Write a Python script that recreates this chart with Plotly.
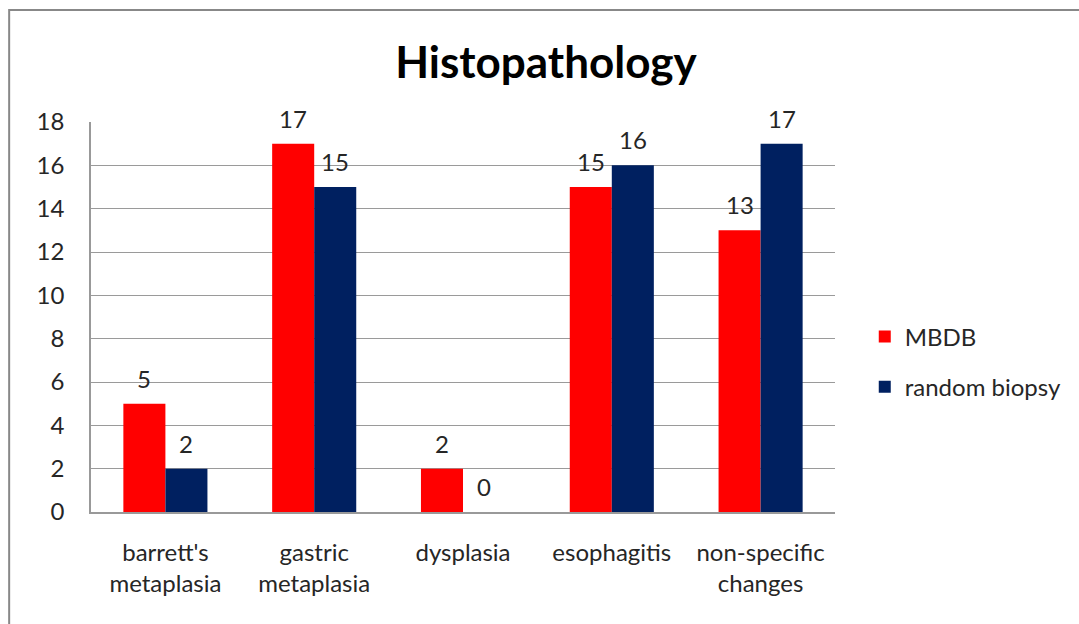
import plotly.graph_objects as go

categories = ["barrett's<br>metaplasia", "gastric<br>metaplasia", "dysplasia", "esophagitis", "non-specific<br>changes"]
mbdb = [5, 17, 2, 15, 13]
random_biopsy = [2, 15, 0, 16, 17]
y_ticks = [0, 2, 4, 6, 8, 10, 12, 14, 16, 18]

FONT = "Lato"
TEXT = "#262626"
SIZE = 24

fig = go.Figure()
fig.add_trace(go.Bar(x=categories, y=mbdb, name="MBDB", marker_color="#FF0000",
                     marker_line_width=0, legendgroup="a"))
fig.add_trace(go.Bar(x=categories, y=random_biopsy, name="random biopsy",
                     marker_color="#002060", marker_line_width=0, legendgroup="b"))

# value labels above each bar
for cat, v in zip(categories, mbdb):
    fig.add_annotation(x=cat, y=v, text=str(v), xshift=-21, yshift=9,
                       yanchor="bottom", showarrow=False,
                       font=dict(family=FONT, size=SIZE, color=TEXT))
for cat, v in zip(categories, random_biopsy):
    fig.add_annotation(x=cat, y=v, text=str(v), xshift=21, yshift=9,
                       yanchor="bottom", showarrow=False,
                       font=dict(family=FONT, size=SIZE, color=TEXT))

# outer chart frame
fig.add_shape(type="rect", xref="paper", yref="paper",
              x0=-0.110, x1=1.5, y0=-0.5, y1=1.287,
              line=dict(color="#888888", width=2), layer="below")

fig.update_layout(
    width=1079, height=624,
    margin=dict(l=91, r=244, t=122, b=112),
    paper_bgcolor="white", plot_bgcolor="white",
    barmode="group", bargap=0.435, bargroupgap=0,
    title=dict(text="<b>Histopathology</b>", x=0.506, xanchor="center",
               y=0.90, yanchor="middle",
               font=dict(family=FONT, size=44, color="black")),
    font=dict(family=FONT, size=SIZE, color=TEXT),
    legend=dict(x=1.04, xanchor="left", y=0.385, yanchor="middle",
                traceorder="grouped", tracegroupgap=16,
                font=dict(family=FONT, size=SIZE, color=TEXT)),
    xaxis=dict(showline=True, linecolor="#999999", linewidth=1.5,
               ticks="", ticklabelstandoff=18, tickfont=dict(size=SIZE)),
    yaxis=dict(range=[0, 18], tickvals=y_ticks, showgrid=True,
               gridcolor="#9a9a9a", gridwidth=1.2, showline=True,
               linecolor="#999999", linewidth=1.5, mirror=False,
               zeroline=False, ticks="", ticklabelstandoff=20,
               tickfont=dict(size=SIZE)),
)
fig.write_html("out.html")
